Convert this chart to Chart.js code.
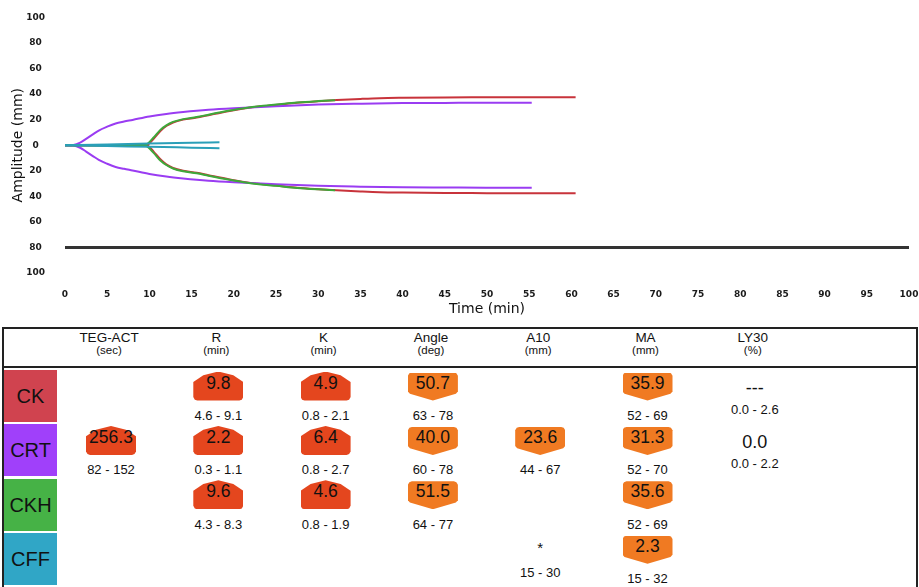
<!DOCTYPE html>
<html>
<head>
<meta charset="utf-8">
<script src="https://cdn.jsdelivr.net/npm/chart.js@4.4.0/dist/chart.umd.min.js"></script>
<style>
  html, body { margin: 0; padding: 0; background: #fff; }
  body { width: 919px; height: 587px; position: relative; overflow: hidden; font-family: 'Liberation Sans', Arial, sans-serif; color: #111; }
  #chartBox { position: absolute; left: 0; top: 0; width: 919px; height: 322px; }
  #frame { position: absolute; left: 2px; top: 327px; width: 916px; height: 270px; box-sizing: border-box;
           border: 2px solid #222; border-bottom: none; }
  #headLine { position: absolute; left: 2px; top: 366px; width: 916px; height: 2px; background: #222; }
  .txt { position: absolute; width: 110px; text-align: center; white-space: nowrap; }
  .rowBox { position: absolute; left: 4px; width: 53px; height: 52px; line-height: 52px; text-align: center; font-size: 20px; color: #111; }
  .badge { position: absolute; width: 50px; }
  .badge.high { background: #e4461e; height: 29px;
    clip-path: polygon(50% 0, 80% 13%, 100% 36%, 100% 88%, 97% 97%, 92% 100%, 8% 100%, 3% 97%, 0 88%, 0 36%, 20% 13%); }
  .badge.low { background: #f07a22; height: 28px;
    clip-path: polygon(0 12%, 3% 3%, 8% 0, 92% 0, 97% 3%, 100% 12%, 100% 68%, 96% 76%, 50% 100%, 4% 76%, 0 68%); }
</style>
</head>
<body>
<div id="chartBox"><canvas id="teg" width="919" height="322"></canvas></div>
<div id="frame"></div>
<div id="headLine"></div>
<div id="table"></div>
<script>
// TEG tracings: time (min) and half amplitude (mm), lower branch is mirrored
const ckTime = [0, 9.6, 9.8, 10.5, 11.3, 12, 12.8, 14, 15.6, 17, 19.5, 21, 23.5, 25, 27.5, 30, 32.2, 35, 37.3, 40, 45, 50, 55, 60.5];
const ckAmp = [0, 0, 0.3, 5, 11, 15, 17.8, 20, 21.6, 23.5, 26.8, 28.5, 30.6, 31.5, 33.2, 34.4, 35.3, 36.2, 36.8, 37.1, 37.4, 37.5, 37.6, 37.6];

const crtTime = [0, 1, 1.8, 2.5, 3.3, 4, 5, 6, 7, 8, 10, 12, 14, 17, 20, 25, 30, 35, 40, 45, 50, 55.3];
const crtAmp = [0, 0.2, 2, 5, 8.5, 11.5, 14.5, 17, 18.5, 19.8, 22.5, 24.5, 26, 27.8, 29, 30.5, 31.8, 32.5, 33, 33.1, 33.2, 33.2];

const ckhTime = [0, 9.4, 9.6, 10.5, 11.3, 12, 12.8, 14, 15.6, 17, 19.5, 21, 23.5, 25, 27.5, 30, 32];
const ckhAmp = [0, 0, 0.3, 6, 12, 15.5, 18.2, 20.4, 22, 23.9, 27.1, 28.8, 30.9, 31.8, 33.4, 34.5, 35.2];

const cffTime = [0, 5, 10, 15, 18.3];
const cffAmp = [0, 0.6, 1.3, 1.9, 2.3];

const baseTime = [0, 100];
const baseAmp = [-80, -80];

// result table
const rowNames = ['CK', 'CRT', 'CKH', 'CFF'];
const paramNames = ['TEG-ACT', 'R', 'K', 'Angle', 'A10', 'MA', 'LY30'];
const paramUnits = ['(sec)', '(min)', '(min)', '(deg)', '(mm)', '(mm)', '(%)'];
const ckValues = ['', '9.8', '4.9', '50.7', '', '35.9', '---'];
const ckRanges = ['', '4.6 - 9.1', '0.8 - 2.1', '63 - 78', '', '52 - 69', '0.0 - 2.6'];
const crtValues = ['256.3', '2.2', '6.4', '40.0', '23.6', '31.3', '0.0'];
const crtRanges = ['82 - 152', '0.3 - 1.1', '0.8 - 2.7', '60 - 78', '44 - 67', '52 - 70', '0.0 - 2.2'];
const ckhValues = ['', '9.6', '4.6', '51.5', '', '35.6', ''];
const ckhRanges = ['', '4.3 - 8.3', '0.8 - 1.9', '64 - 77', '', '52 - 69', ''];
const cffValues = ['', '', '', '', '*', '2.3', ''];
const cffRanges = ['', '', '', '', '15 - 30', '15 - 32', ''];

const traceColors = { ck: '#c8333b', crt: '#9a3cf2', ckh: '#3ea83a', cff: '#2a9fb8' };
const boxColors = ['#d0434f', '#a040fa', '#46b246', '#30a6c6'];

const pts = (t, a, sign) => t.map((x, i) => ({ x: x, y: sign * a[i] }));

const line = (label, data, color, width) => ({
    label: label,
    data: data,
    borderColor: color,
    borderWidth: width || 2,
    pointRadius: 0,
    fill: false,
    cubicInterpolationMode: 'monotone'
});

new Chart(document.getElementById('teg'), {
    type: 'line',
    data: {
        datasets: [
            line('CFF', pts(cffTime, cffAmp, 1), traceColors.cff),
            line('CFF', pts(cffTime, cffAmp, -1), traceColors.cff),
            line('CKH', pts(ckhTime, ckhAmp, 1), traceColors.ckh),
            line('CKH', pts(ckhTime, ckhAmp, -1), traceColors.ckh),
            line('CRT', pts(crtTime, crtAmp, 1), traceColors.crt),
            line('CRT', pts(crtTime, crtAmp, -1), traceColors.crt),
            line('CK', pts(ckTime, ckAmp, 1), traceColors.ck),
            line('CK', pts(ckTime, ckAmp, -1), traceColors.ck),
            line('base', pts(baseTime, baseAmp, 1), '#333333', 3)
        ]
    },
    options: {
        responsive: false,
        animation: false,
        devicePixelRatio: 1,
        layout: { padding: { left: 0, right: 10, top: 14, bottom: 0 } },
        plugins: { legend: { display: false }, tooltip: { enabled: false } },
        scales: {
            x: {
                type: 'linear',
                min: 0,
                max: 100,
                grid: { display: false },
                border: { display: false },
                ticks: {
                    stepSize: 5,
                    padding: 8,
                    maxRotation: 0,
                    color: '#1a1a1a',
                    font: { size: 9, weight: 'bold', family: "'DejaVu Sans', sans-serif" }
                },
                title: {
                    display: true,
                    text: 'Time (min)',
                    color: '#111',
                    padding: { top: 0, bottom: 4 },
                    font: { size: 14, family: "'DejaVu Sans', sans-serif" }
                },
                afterFit: s => { s.height = 49; s.paddingRight = 0; }
            },
            y: {
                min: -100,
                max: 100,
                grid: { display: false },
                border: { display: false },
                ticks: {
                    stepSize: 20,
                    padding: 12,
                    crossAlign: 'center',
                    color: '#1a1a1a',
                    callback: v => Math.abs(v),
                    font: { size: 9, weight: 'bold', family: "'DejaVu Sans', sans-serif" }
                },
                title: {
                    display: true,
                    text: 'Amplitude (mm)',
                    color: '#111',
                    padding: { top: 10, bottom: 0 },
                    font: { size: 14, family: "'DejaVu Sans', sans-serif" }
                },
                afterFit: s => { s.width = 65; }
            }
        }
    }
});

// table built from the arrays above
const table = document.getElementById('table');
const colX = paramNames.map((p, i) => 111 + 107.3 * i);
const rowTop = rowNames.map((r, i) => 370 + 54.4 * i);
const values = [ckValues, crtValues, ckhValues, cffValues];
const ranges = [ckRanges, crtRanges, ckhRanges, cffRanges];

function addText(text, cx, cy, size) {
    const d = document.createElement('div');
    d.className = 'txt';
    d.textContent = text;
    const h = Math.round(size * 1.2);
    d.style.left = (cx - 55) + 'px';
    d.style.top = (cy - h / 2) + 'px';
    d.style.height = h + 'px';
    d.style.lineHeight = h + 'px';
    d.style.fontSize = size + 'px';
    table.appendChild(d);
}

function status(value, range) {
    const v = parseFloat(value);
    if (isNaN(v) || !range) return 'none';
    const [lo, hi] = range.split(' - ').map(Number);
    if (v > hi) return 'high';
    if (v < lo) return 'low';
    return 'normal';
}

paramNames.forEach((p, i) => {
    addText(p, colX[i] - 2, 338, 13.5);
    addText(paramUnits[i], colX[i] - 2, 349.5, 11.5);
});

rowNames.forEach((name, r) => {
    const box = document.createElement('div');
    box.className = 'rowBox';
    box.textContent = name;
    box.style.top = rowTop[r] + 'px';
    box.style.background = boxColors[r];
    table.appendChild(box);

    const top = rowTop[r];
    values[r].forEach((val, c) => {
        const rng = ranges[r][c];
        const st = status(val, rng);
        if (st === 'high' || st === 'low') {
            const b = document.createElement('div');
            b.className = 'badge ' + st;
            b.style.left = (colX[c] - 25) + 'px';
            b.style.top = (top + (st === 'high' ? 1.5 : 2.5)) + 'px';
            table.appendChild(b);
            addText(val, colX[c], top + 13, 17.5);
            if (rng) addText(rng, colX[c], top + 46, 13);
        } else {
            if (val) addText(val, colX[c], top + (val === '*' ? 15 : 18), val === '*' ? 15 : 18);
            if (rng) addText(rng, colX[c], top + 40, 13);
        }
    });
});
</script>
</body>
</html>
